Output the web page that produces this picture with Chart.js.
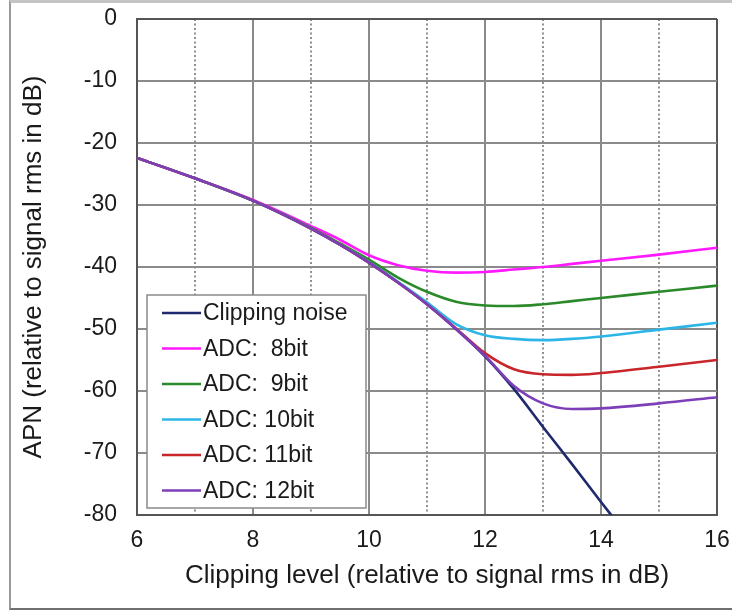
<!DOCTYPE html>
<html>
<head>
<meta charset="utf-8">
<script src="https://cdn.jsdelivr.net/npm/chart.js@4/dist/chart.umd.min.js"></script>
<style>
  html, body { margin: 0; padding: 0; background: #fff; }
  #wrap { position: relative; width: 732px; height: 612px; overflow: hidden; }
  #frame { position: absolute; left: 9px; top: 0; width: 760px; height: 605px;
           border-left: 2px solid #9a9a9a; border-top: 3px solid #c4c4c4; border-bottom: 2px solid #707070; }
  canvas { position: absolute; left: 0; top: 0; }
</style>
</head>
<body>
<div id="wrap">
  <div id="frame"></div>
  <canvas id="c" width="732" height="612"></canvas>
</div>
<script>
// ---- data ----
const seriesLabels = ['Clipping noise', 'ADC:  8bit', 'ADC:  9bit', 'ADC: 10bit', 'ADC: 11bit', 'ADC: 12bit'];
const seriesColors = ['#1f2a6e', '#ff19ff', '#2a8a2a', '#2cb6e8', '#c8262b', '#7d3fb8'];

const clipX = [6, 7, 8, 9, 9.5, 10, 10.5, 11, 11.5, 12, 12.5, 13, 13.5, 14, 14.2];
const clipNoise = [-22.4, -25.7, -29.3, -33.8, -36.4, -39.3, -42.5, -46.0, -50.0, -54.4, -59.7, -65.8, -71.8, -77.9, -80.3];

const adcX = [6, 7, 8, 9, 9.5, 10, 10.5, 11, 11.5, 12, 12.5, 13, 13.5, 14, 15, 16];
const adc8  = [-22.4, -25.7, -29.2, -33.4, -35.6, -38.1, -39.7, -40.6, -40.9, -40.8, -40.4, -40.0, -39.5, -39.0, -38.0, -36.9];
const adc9  = [-22.4, -25.7, -29.3, -33.7, -36.2, -38.8, -41.7, -44.0, -45.6, -46.2, -46.3, -46.0, -45.5, -45.0, -44.0, -43.0];
const adc10 = [-22.4, -25.7, -29.3, -33.8, -36.4, -39.2, -42.4, -45.7, -49.2, -51.0, -51.6, -51.8, -51.6, -51.2, -50.1, -49.0];
const adc11 = [-22.4, -25.7, -29.3, -33.8, -36.4, -39.3, -42.5, -46.0, -49.9, -53.9, -56.5, -57.3, -57.4, -57.1, -56.1, -55.0];
const adc12 = [-22.4, -25.7, -29.3, -33.8, -36.4, -39.3, -42.5, -46.0, -50.0, -54.3, -59.2, -62.0, -62.9, -62.8, -62.0, -61.0];

const xTickLabels = ['6', '8', '10', '12', '14', '16'];
const yTickLabels = ['0', '-10', '-20', '-30', '-40', '-50', '-60', '-70', '-80'];
const xTitle = 'Clipping level (relative to signal rms in dB)';
const yTitle = 'APN (relative to signal rms in dB)';

// ---- build datasets ----
const allY = [clipNoise, adc8, adc9, adc10, adc11, adc12];
const datasets = allY.map((ys, i) => {
  const xs = i === 0 ? clipX : adcX;
  return {
    label: seriesLabels[i],
    data: xs.map((x, k) => ({ x: x, y: ys[k] })),
    borderColor: seriesColors[i],
    backgroundColor: seriesColors[i],
    borderWidth: 2.6,
    pointRadius: 0,
    cubicInterpolationMode: 'monotone',
    fill: false,
    order: allY.length - 1 - i   // later series drawn on top
  };
});

const FONT = "'Liberation Sans', Arial, sans-serif";

const legendPlugin = {
  id: 'innerLegend',
  afterDatasetsDraw(chart) {
    const ctx = chart.ctx;
    const xs = chart.scales.x, ys = chart.scales.y;
    const left = xs.left + 10, right = left + 219;
    const bottom = ys.bottom - 7, top = bottom - 213;
    ctx.save();
    ctx.fillStyle = '#fff';
    ctx.fillRect(left, top, right - left, bottom - top);
    ctx.strokeStyle = '#8a8a8a';
    ctx.lineWidth = 1.5;
    ctx.strokeRect(left, top, right - left, bottom - top);
    ctx.font = '23px ' + FONT;
    ctx.textBaseline = 'middle';
    ctx.fillStyle = '#1a1a1a';
    chart.data.datasets.forEach((ds, i) => {
      const y = top + 18 + i * 35.5;
      ctx.strokeStyle = ds.borderColor;
      ctx.lineWidth = 2.6;
      ctx.beginPath();
      ctx.moveTo(left + 15, y);
      ctx.lineTo(left + 54, y);
      ctx.stroke();
      ctx.fillText(ds.label, left + 56, y + 1);
    });
    ctx.restore();
  }
};

new Chart(document.getElementById('c'), {
  type: 'line',
  data: { datasets: datasets },
  plugins: [legendPlugin],
  options: {
    responsive: false,
    animation: false,
    devicePixelRatio: 1,
    layout: { padding: { left: 0, top: 19, right: 15, bottom: 0 } },
    plugins: { legend: { display: false }, tooltip: { enabled: false } },
    scales: {
      x: {
        type: 'linear', min: 6, max: 16,
        afterFit(s) { s.height = 97; s.paddingLeft = 0; s.paddingRight = 0; },
        ticks: {
          stepSize: 1, autoSkip: false, maxRotation: 0, padding: 12,
          color: '#1a1a1a', font: { family: FONT, size: 23 },
          callback: (v) => { const i = xTickLabels.indexOf(String(v)); return i >= 0 ? xTickLabels[i] : ''; }
        },
        grid: {
          drawTicks: false, lineWidth: 2,
          color: (c) => {
            if (!c.tick) return '#555';
            const v = c.tick.value;
            if (v === 6 || v === 16) return '#555';
            return v % 2 ? '#909090' : '#8a8a8a';
          }
        },
        border: {
          display: true, color: '#555', width: 2,
          dash: (c) => (c.tick && c.tick.value % 2 ? [2, 2.5] : [])
        },
        title: {
          display: true, text: xTitle, color: '#1a1a1a',
          font: { family: FONT, size: 26 }, padding: { top: 0, bottom: 21 }
        }
      },
      y: {
        type: 'linear', min: -80, max: 0,
        afterFit(s) { s.width = 137; s.paddingTop = 0; s.paddingBottom = 0; },
        ticks: {
          stepSize: 10, padding: 20, color: '#1a1a1a', font: { family: FONT, size: 23 },
          callback: (v) => { const i = yTickLabels.indexOf(String(v)); return i >= 0 ? yTickLabels[i] : ''; }
        },
        grid: {
          drawTicks: false, lineWidth: 2,
          color: (c) => {
            if (!c.tick) return '#555';
            const v = c.tick.value;
            return (v === 0 || v === -80) ? '#555' : '#8a8a8a';
          }
        },
        border: { display: true, color: '#555', width: 2 },
        title: {
          display: true, text: yTitle, color: '#1a1a1a',
          font: { family: FONT, size: 26 }, padding: { top: 18, bottom: 0 }
        }
      }
    }
  }
});
</script>
</body>
</html>
